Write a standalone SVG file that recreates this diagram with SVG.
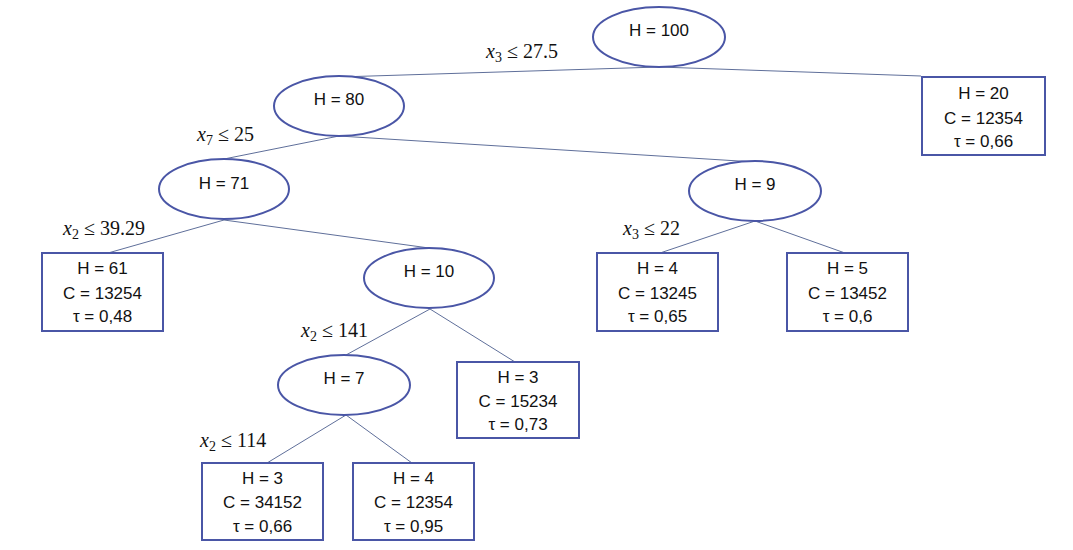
<svg xmlns="http://www.w3.org/2000/svg" width="1073" height="550" viewBox="0 0 1073 550">
<style>
.n ellipse{fill:#fff;stroke:#4a56a6;stroke-width:2}
.n rect{fill:#fff;stroke:#4a56a6;stroke-width:2}
.t{font-family:"Liberation Sans",Arial,sans-serif;font-size:17px;fill:#111;text-anchor:middle}
.l{font-family:"Liberation Serif","DejaVu Serif",serif;font-size:20px;fill:#111}
.l .v{font-style:italic}
.l .s{font-size:14px}
#edges line{stroke:#5f6f9a;stroke-width:1}
</style>
<rect width="1073" height="550" fill="#fff"/>
<g id="edges">
<line x1="659" y1="67" x2="339" y2="77"/>
<line x1="659" y1="67" x2="921" y2="76"/>
<line x1="339" y1="136" x2="224" y2="159"/>
<line x1="339" y1="136" x2="755" y2="162"/>
<line x1="224" y1="220" x2="108" y2="253"/>
<line x1="224" y1="220" x2="429" y2="248"/>
<line x1="755" y1="221" x2="660" y2="253"/>
<line x1="755" y1="221" x2="845" y2="253"/>
<line x1="430" y1="309" x2="346" y2="355"/>
<line x1="430" y1="309" x2="515" y2="362"/>
<line x1="346" y1="415" x2="267" y2="463"/>
<line x1="346" y1="415" x2="412" y2="463"/>
</g>
<g id="labels">
<text class="l" x="486" y="58"><tspan class="v">x</tspan><tspan class="s" dy="4">3</tspan><tspan dy="-4" dx="5">≤</tspan><tspan dx="5">27.5</tspan></text>
<text class="l" x="197" y="141"><tspan class="v">x</tspan><tspan class="s" dy="4">7</tspan><tspan dy="-4" dx="5">≤</tspan><tspan dx="5">25</tspan></text>
<text class="l" x="63" y="235"><tspan class="v">x</tspan><tspan class="s" dy="4">2</tspan><tspan dy="-4" dx="5">≤</tspan><tspan dx="5">39.29</tspan></text>
<text class="l" x="623" y="235"><tspan class="v">x</tspan><tspan class="s" dy="4">3</tspan><tspan dy="-4" dx="5">≤</tspan><tspan dx="5">22</tspan></text>
<text class="l" x="301" y="337"><tspan class="v">x</tspan><tspan class="s" dy="4">2</tspan><tspan dy="-4" dx="5">≤</tspan><tspan dx="5">141</tspan></text>
<text class="l" x="200" y="447"><tspan class="v">x</tspan><tspan class="s" dy="4">2</tspan><tspan dy="-4" dx="5">≤</tspan><tspan dx="5">114</tspan></text>
</g>
<g id="n100" class="n"><ellipse cx="659" cy="37" rx="66" ry="30"/><text class="t" x="659" y="36">H = 100</text></g>
<g id="n80" class="n"><ellipse cx="339" cy="106" rx="65" ry="30"/><text class="t" x="339" y="105">H = 80</text></g>
<g id="n20" class="n"><rect x="922" y="77" width="123" height="78"/><text class="t" x="983.5" y="99">H = 20</text><text class="t" x="983.5" y="124">C = 12354</text><text class="t" x="983.5" y="147">τ = 0,66</text></g>
<g id="n71" class="n"><ellipse cx="224" cy="189" rx="65" ry="30"/><text class="t" x="224" y="189">H = 71</text></g>
<g id="n9" class="n"><ellipse cx="755" cy="191" rx="66" ry="30"/><text class="t" x="755" y="190">H = 9</text></g>
<g id="n61" class="n"><rect x="42" y="253" width="121" height="78"/><text class="t" x="102.5" y="274">H = 61</text><text class="t" x="102.5" y="299">C = 13254</text><text class="t" x="102.5" y="322">τ = 0,48</text></g>
<g id="n10" class="n"><ellipse cx="429" cy="278" rx="65" ry="30"/><text class="t" x="429" y="277">H = 10</text></g>
<g id="n4a" class="n"><rect x="597" y="253" width="121" height="78"/><text class="t" x="657.5" y="274">H = 4</text><text class="t" x="657.5" y="299">C = 13245</text><text class="t" x="657.5" y="322">τ = 0,65</text></g>
<g id="n5" class="n"><rect x="787" y="253" width="121" height="78"/><text class="t" x="847.5" y="274">H = 5</text><text class="t" x="847.5" y="299">C = 13452</text><text class="t" x="847.5" y="322">τ = 0,6</text></g>
<g id="n7" class="n"><ellipse cx="344" cy="385" rx="66" ry="30"/><text class="t" x="344" y="384">H = 7</text></g>
<g id="n3a" class="n"><rect x="457" y="362" width="122" height="76"/><text class="t" x="518" y="383">H = 3</text><text class="t" x="518" y="407">C = 15234</text><text class="t" x="518" y="430">τ = 0,73</text></g>
<g id="n3b" class="n"><rect x="202" y="463" width="121" height="77"/><text class="t" x="262.5" y="484">H = 3</text><text class="t" x="262.5" y="508">C = 34152</text><text class="t" x="262.5" y="532">τ = 0,66</text></g>
<g id="n4b" class="n"><rect x="353" y="463" width="121" height="77"/><text class="t" x="413.5" y="484">H = 4</text><text class="t" x="413.5" y="508">C = 12354</text><text class="t" x="413.5" y="532">τ = 0,95</text></g>
</svg>
